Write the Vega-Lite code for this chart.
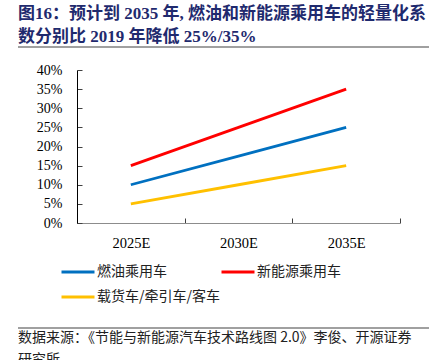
{
  "$schema": "https://vega.github.io/schema/vega-lite/v6.json",
  "padding": {"left": 17, "top": 5, "right": 10, "bottom": 0},
  "background": "white",
  "title": {
    "text": ["图16：预计到 2035 年, 燃油和新能源乘用车的轻量化系", "数分别比 2019 年降低 25%/35%"],
    "anchor": "start",
    "frame": "group",
    "font": "Liberation Serif, Noto Sans CJK SC",
    "fontSize": 17,
    "fontWeight": "bold",
    "color": "#1F2A6E",
    "lineHeight": 23,
    "offset": 0
  },
  "vconcat": [
    {
      "width": 411,
      "height": 281,
      "view": {"stroke": null},
      "title": {
        "text": ["数据来源：《节能与新能源汽车技术路线图 2.0》李俊、开源证券", "研究所"],
        "orient": "bottom",
        "anchor": "start",
        "frame": "group",
        "font": "Noto Sans CJK SC",
        "fontSize": 14,
        "fontWeight": "normal",
        "color": "#222222",
        "lineHeight": 22,
        "offset": 2
      },
      "encoding": {
        "y": {
          "type": "quantitative",
          "scale": {"domain": [0, 0.4], "range": [176, 23], "zero": false, "nice": false},
          "axis": {
            "title": null,
            "values": [0, 0.05, 0.1, 0.15, 0.2, 0.25, 0.3, 0.35, 0.4],
            "format": ".0%",
            "grid": false,
            "labelFont": "Liberation Serif",
            "labelFontSize": 14,
            "labelColor": "#000000",
            "tickSize": -5,
            "tickColor": "#404040",
            "domainColor": "#000000",
            "labelPadding": 20,
            "offset": -59
          }
        }
      },
      "layer": [
        {
          "data": {
            "values": [
              {"year": "2025E", "series": "燃油乘用车", "value": 0.10},
              {"year": "2030E", "series": "燃油乘用车", "value": 0.175},
              {"year": "2035E", "series": "燃油乘用车", "value": 0.25},
              {"year": "2025E", "series": "新能源乘用车", "value": 0.15},
              {"year": "2030E", "series": "新能源乘用车", "value": 0.25},
              {"year": "2035E", "series": "新能源乘用车", "value": 0.35},
              {"year": "2025E", "series": "载货车/牵引车/客车", "value": 0.05},
              {"year": "2030E", "series": "载货车/牵引车/客车", "value": 0.10},
              {"year": "2035E", "series": "载货车/牵引车/客车", "value": 0.15}
            ]
          },
          "mark": {"type": "line", "strokeWidth": 2.8},
          "encoding": {
            "x": {
              "field": "year",
              "type": "ordinal",
              "bandPosition": 0.5,
              "scale": {"type": "band", "paddingInner": 0, "paddingOuter": 0, "range": [59, 382]},
              "axis": {
                "title": null,
                "labelAngle": 0,
                "labelFont": "Liberation Serif",
                "labelFontSize": 14.5,
                "labelColor": "#000000",
                "tickBand": "extent",
                "tickSize": -5,
                "tickColor": "#404040",
                "domainColor": "#8c8c8c",
                "labelPadding": 18,
                "offset": -105
              }
            },
            "y": {"field": "value"},
            "color": {
              "field": "series",
              "type": "nominal",
              "sort": ["燃油乘用车", "新能源乘用车", "载货车/牵引车/客车"],
              "scale": {
                "domain": ["燃油乘用车", "新能源乘用车", "载货车/牵引车/客车"],
                "range": ["#0070C0", "#FF0000", "#FFC000"]
              },
              "legend": {
                "title": null,
                "orient": "none",
                "direction": "horizontal",
                "legendX": 42,
                "legendY": 207,
                "columns": 2,
                "columnPadding": -10,
                "rowPadding": 0,
                "symbolType": "stroke",
                "symbolSize": 1089,
                "symbolStrokeWidth": 3,
                "labelOffset": 1,
                "labelFont": "Noto Sans CJK SC",
                "labelFontSize": 14,
                "labelColor": "#222222",
                "labelLimit": 300
              }
            }
          }
        },
        {
          "data": {"values": [{"edge": 0.4601}, {"edge": -0.2745}]},
          "mark": {"type": "rule", "color": "#808080", "strokeWidth": 1.5},
          "encoding": {
            "y": {"field": "edge"}
          }
        }
      ]
    }
  ]
}
